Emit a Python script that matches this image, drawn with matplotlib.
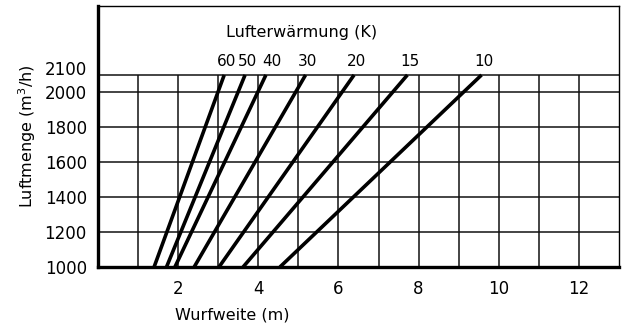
import numpy as np
import matplotlib
matplotlib.use("Agg")
import matplotlib.pyplot as plt
import matplotlib.transforms as mtransforms

# Lufterwaermung (K) and where each line meets 1000 and 2100 m3/h
warm = [60, 50, 40, 30, 20, 15, 10]
x_at_1000 = [1.40, 1.71, 1.92, 2.40, 3.02, 3.62, 4.54]
x_at_2100 = [3.15, 3.67, 4.19, 5.18, 6.39, 7.72, 9.57]
flow = [1000, 2100]

y_ticks = [1000, 1200, 1400, 1600, 1800, 2000, 2100]
x_ticks = [2, 4, 6, 8, 10, 12]
x_grid = list(range(1, 13))

plt.rcParams['font.family'] = ['DejaVu Sans']
fig = plt.figure(figsize=(6.24, 3.29), dpi=100)
ax = fig.add_axes([0.157, 0.1884, 0.835, 0.7934])
ax.set_xlim(0, 13)
ax.set_ylim(1000, 2495)

# grid only inside the chart area (up to 2100)
ax.vlines(x_grid, 1000, 2100, color='#111111', lw=1.1, zorder=1)
ax.hlines(y_ticks[1:], 0, 13, color='#111111', lw=1.1, zorder=1)

for i, (w, x0, x1) in enumerate(zip(warm, x_at_1000, x_at_2100)):
    ax.plot([x0, x1], flow, color='black', lw=2.6, solid_capstyle='butt', zorder=3)
    dx = 4 if w == 40 else 1.5
    ax.annotate(str(w), xy=(x1, 2100), xytext=(dx, 9.5), textcoords='offset points',
                ha='center', va='center', fontsize=11)

ax.text(5.07, 2341, 'Lufterwärmung (K)', ha='center', va='center', fontsize=11.5)

ax.set_xticks(x_ticks)
ax.set_yticks(y_ticks)
ax.tick_params(length=0, labelsize=12)
ax.tick_params(axis='y', pad=8)
ax.tick_params(axis='x', pad=9)

# lift the 2100 label a bit so it doesn't clash with 2000
lbl = ax.get_yticklabels()[-1]
lbl.set_transform(lbl.get_transform() + mtransforms.ScaledTranslation(0, 7 / 100, fig.dpi_scale_trans))

ax.set_xlabel('Wurfweite (m)', fontsize=11.5)
ax.xaxis.label.set_va('center')
ax.xaxis.set_label_coords(0.258, -0.184)
ax.set_ylabel('Luftmenge (m$^3$/h)', fontsize=11.5)
ax.yaxis.label.set_va('center')
ax.yaxis.set_label_coords(-0.136, 0.5)

for s in ['top', 'right']:
    ax.spines[s].set_linewidth(1.0)
for s in ['left', 'bottom']:
    ax.spines[s].set_linewidth(2.4)

fig.savefig('out.png', dpi=100)
